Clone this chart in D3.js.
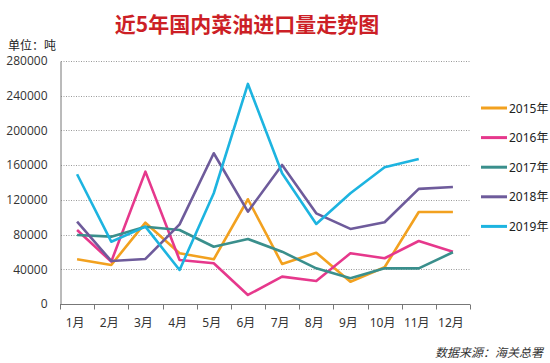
<!DOCTYPE html>
<meta charset="utf-8">
<title>近5年国内菜油进口量走势图</title>
<style>
body {
  margin: 0;
  background: #fff;
}
svg text {
  font-family: "Noto Sans", "Noto Sans CJK SC", sans-serif;
}
.grid line {
  stroke: #9a9a9a;
  stroke-dasharray: 1,1.5;
}
.series {
  fill: none;
  stroke-width: 2.6px;
  stroke-linejoin: round;
}
</style>
<body>
<div id="vis"></div>

<script src="https://cdn.jsdelivr.net/npm/d3@7"></script>
<script>

var months = ["1月","2月","3月","4月","5月","6月","7月","8月","9月","10月","11月","12月"];
var yTicks = [0, 40000, 80000, 120000, 160000, 200000, 240000, 280000];

var y2015 = [51500, 45000, 93700, 58400, 51500, 120700, 46100, 59100, 25700, 42300, 106000, 106000];
var y2016 = [85300, 48800, 152500, 50700, 46900, 10400, 31500, 26500, 58400, 52700, 72600, 60300];
var y2017 = [79500, 77600, 89100, 85300, 66000, 74900, 60300, 41100, 29600, 41100, 41100, 59600];
var y2018 = [94900, 49600, 51900, 91800, 173700, 106400, 160200, 104500, 86500, 94200, 132600, 134900];
var y2019 = [149500, 71800, 89100, 39200, 127600, 253600, 150600, 92200, 127600, 157500, 167000];

var seriesNames = ["2015年", "2016年", "2017年", "2018年", "2019年"];
var seriesColors = ["#f2a11f", "#e6388c", "#3a8f8c", "#6e5b9b", "#1db4e0"];
var seriesData = [y2015, y2016, y2017, y2018, y2019];

var width = 550,
    height = 363;

var svg = d3.select("#vis").append("svg")
    .attr("width", width)
    .attr("height", height);

var x = d3.scaleBand()
    .domain(months)
    .range([60, 470]);

var y = d3.scaleLinear()
    .domain([0, 280000])
    .range([304, 61]);

// title
svg.append("text")
    .attr("x", 247)
    .attr("y", 32)
    .attr("text-anchor", "middle")
    .style("font-size", "21px")
    .style("font-weight", "bold")
    .style("font-family", "'Noto Sans CJK SC', sans-serif")
    .style("fill", "#cc1f26")
    .text("近5年国内菜油进口量走势图");

svg.append("text")
    .attr("x", 8)
    .attr("y", 50)
    .style("font-size", "12px")
    .style("fill", "#222")
    .text("单位：吨");

// gridlines
svg.append("g")
    .attr("class", "grid")
  .selectAll("line")
    .data(yTicks.filter(function(d) { return d > 0; }))
  .enter().append("line")
    .attr("x1", 61)
    .attr("x2", 470)
    .attr("y1", function(d) { return Math.round(y(d)) + 0.5; })
    .attr("y2", function(d) { return Math.round(y(d)) + 0.5; });

// y axis
var yAxis = svg.append("g")
    .attr("transform", "translate(60.5,0)")
    .call(d3.axisLeft(y).tickValues(yTicks).tickFormat(d3.format("d")).tickSize(0).tickPadding(13));
yAxis.select(".domain").attr("stroke", "#777");
yAxis.selectAll("text")
    .style("font-size", "12px")
    .style("font-family", "'Open Sans', 'Noto Sans', sans-serif")
    .style("fill", "#333");

// x axis
var xAxis = svg.append("g")
    .attr("transform", "translate(0,304.5)");
xAxis.append("line")
    .attr("x1", 60).attr("x2", 470)
    .attr("stroke", "#777");
xAxis.selectAll(".tick")
    .data(d3.range(months.length + 1))
  .enter().append("line")
    .attr("x1", function(i) { return Math.round(60 + i * x.step()) + 0.5; })
    .attr("x2", function(i) { return Math.round(60 + i * x.step()) + 0.5; })
    .attr("y1", 0)
    .attr("y2", 5)
    .attr("stroke", "#777");
xAxis.selectAll("text")
    .data(months)
  .enter().append("text")
    .attr("x", function(d) { return x(d) + x.bandwidth() / 2 - 2; })
    .attr("y", 22)
    .attr("text-anchor", "middle")
    .style("font-size", "12px")
    .style("fill", "#333")
    .text(function(d) { return d; });

// lines
var line = d3.line()
    .x(function(d, i) { return x(months[i]) + x.bandwidth() / 2; })
    .y(function(d) { return y(d); });

svg.selectAll(".series")
    .data(seriesData)
  .enter().append("path")
    .attr("class", "series")
    .attr("stroke", function(d, i) { return seriesColors[i]; })
    .attr("d", line);

// legend
var legend = svg.selectAll(".legend")
    .data(seriesNames)
  .enter().append("g")
    .attr("class", "legend")
    .attr("transform", function(d, i) { return "translate(481," + (108 + i * 29.6) + ")"; });

legend.append("line")
    .attr("x1", 0).attr("x2", 26)
    .attr("stroke", function(d, i) { return seriesColors[i]; })
    .attr("stroke-width", 3);

legend.append("text")
    .attr("x", 28)
    .attr("y", 4.5)
    .style("font-size", "12px")
    .style("fill", "#222")
    .text(function(d) { return d; });

// source
svg.append("text")
    .attr("x", 543)
    .attr("y", 357)
    .attr("text-anchor", "end")
    .style("font-size", "12px")
    .style("font-style", "italic")
    .style("fill", "#333")
    .text("数据来源：海关总署");

</script>
</body>
